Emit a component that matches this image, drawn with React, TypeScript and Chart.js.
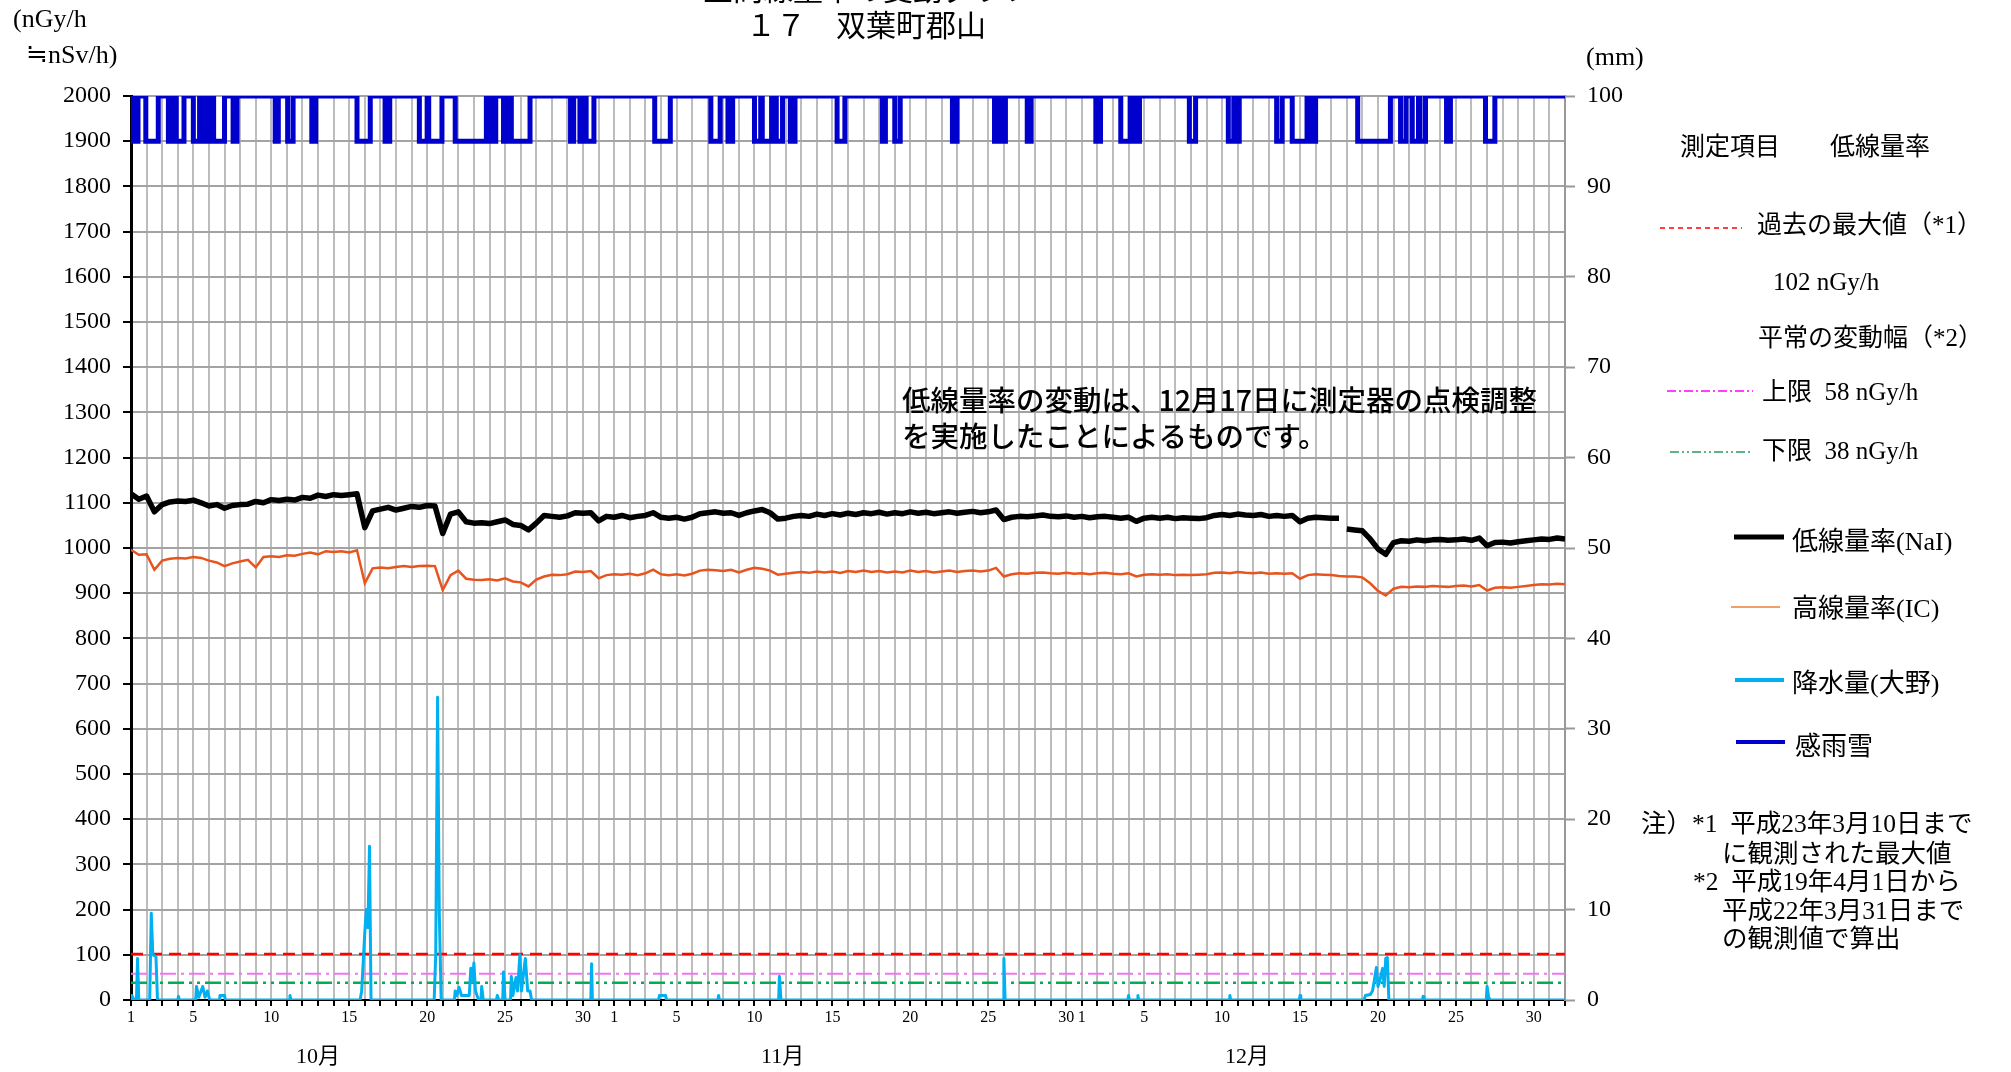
import React, { useEffect, useRef } from 'react';
import { Chart, registerables } from 'chart.js';

Chart.register(...registerables);

// ---------- data ----------
// day index: Oct d -> d-1, Nov d -> 30+d, Dec d -> 60+d ; axis 0..92
const X_MIN = 0;
const X_MAX = 92;
const OCT_LABEL_DAYS = [1, 5, 10, 15, 20, 25, 30];
const NOV_LABEL_DAYS = [1, 5, 10, 15, 20, 25, 30];
const DEC_LABEL_DAYS = [1, 5, 10, 15, 20, 25, 30];
const MONTH_NAMES = ['10月', '11月', '12月'];
const MONTH_LABEL_POS = [12, 41.8, 71.6];

// low dose rate NaI (nGy/h), every half day from Oct 1 00:00
const NAI = [
  1120, 1108, 1115, 1080, 1096, 1102, 1104, 1103, 1106, 1100,
  1093, 1096, 1088, 1094, 1096, 1097, 1103, 1100, 1107, 1105,
  1108, 1106, 1112, 1110, 1117, 1114, 1118, 1116, 1118, 1120,
  1045, 1082, 1086, 1090, 1084, 1088, 1092, 1090, 1094, 1093,
  1032, 1075, 1080, 1058, 1055, 1056, 1054, 1058, 1062, 1052,
  1050, 1040, 1055, 1072, 1070, 1068, 1071, 1078, 1077, 1078,
  1060, 1070, 1068, 1072, 1067, 1070, 1072, 1078, 1068, 1066,
  1068, 1064, 1068, 1076, 1078, 1080, 1077, 1078, 1072, 1078,
  1082, 1085, 1078, 1064, 1066, 1070, 1072, 1070, 1075, 1072,
  1076, 1073, 1077, 1074, 1078, 1076, 1079, 1075, 1078, 1076,
  1080, 1077, 1079, 1076, 1078, 1080, 1077, 1079, 1081, 1078,
  1080, 1084, 1063, 1068, 1070, 1069, 1071, 1073, 1070, 1069,
  1071, 1068, 1070, 1067, 1069, 1070, 1068, 1066, 1068, 1059,
  1066, 1068, 1066, 1068, 1065, 1067, 1066, 1065, 1067, 1072,
  1074, 1072, 1075, 1073, 1072, 1074, 1070, 1072, 1070, 1072,
  1058, 1066, 1068, 1067, 1066, 1066, 1042, 1040, 1038, 1020,
  998, 986, 1012, 1016, 1015, 1018, 1016, 1018, 1019, 1017,
  1018, 1020, 1017, 1022, 1005, 1012, 1013, 1011, 1014, 1016,
  1018, 1020, 1019, 1022, 1020,
];
// the NaI record is interrupted here (instrument inspection, Dec 17)
const NAI_GAP_X = 77.75;

// high dose rate IC (nGy/h), every half day
const IC = [
  996, 985, 986, 952, 972, 976, 978, 977, 980, 978,
  972, 968, 960, 966, 970, 974, 957, 980, 982, 980,
  984, 983, 987, 990, 986, 993, 991, 993, 990, 995,
  922, 955, 957, 955, 958, 960, 958, 960, 961, 960,
  907, 940, 950, 932, 930, 929, 931, 928, 933, 926,
  924, 915, 930, 937, 941, 940, 942, 948, 947, 949,
  933, 940, 942, 941, 943, 940, 944, 952, 942, 940,
  942, 939, 943, 950, 952, 951, 949, 952, 946, 952,
  956, 954, 950, 941, 943, 945, 947, 945, 948, 946,
  948, 945, 949, 947, 950, 947, 949, 946, 948, 946,
  950, 947, 949, 946, 948, 950, 947, 949, 950, 948,
  950, 956, 937, 942, 944, 943, 945, 946, 944, 943,
  945, 943, 944, 942, 944, 945, 943, 942, 944, 937,
  941, 942, 941, 942, 940, 941, 940, 941, 942, 945,
  946, 944, 947, 945, 944, 946, 943, 944, 943, 944,
  932, 940, 942, 941, 940, 938, 937, 937, 935, 922,
  905, 895, 910, 914, 913, 915, 914, 916, 915, 914,
  916, 917, 915, 918, 906, 912, 913, 912, 914, 916,
  918, 920, 919, 921, 920,
];
const HALF_DAY = 0.5;

// precipitation (mm) at Ono
const RAIN_X = [
  0, 0.05, 0.2, 0.35, 0.42, 0.5, 1.2, 1.3, 1.4, 1.6, 1.7,
  3.0, 3.05, 3.1, 4.15, 4.2, 4.35, 4.6, 4.75, 4.9, 5.05,
  5.65, 5.7, 6.0, 6.05, 10.15, 10.2, 10.25,
  14.7, 14.8, 15.0, 15.1, 15.2, 15.3, 15.4,
  19.45, 19.55, 19.67, 19.78, 19.9,
  20.75, 20.8, 20.9, 21.05, 21.2, 21.5, 21.7, 21.8, 21.9, 22.0, 22.1, 22.3,
  22.45, 22.5, 22.6, 23.45, 23.5, 23.6, 23.85, 23.9, 24.0,
  24.35, 24.4, 24.5, 24.7, 24.8, 24.95, 25.05, 25.3, 25.45, 25.6, 25.7,
  29.5, 29.55, 29.6, 33.85, 33.9, 34.3, 34.35, 37.65, 37.7, 37.75,
  41.55, 41.6, 41.7, 55.95, 56.0, 56.08,
  63.95, 64.0, 64.05, 64.55, 64.6, 64.65, 70.45, 70.5, 70.55, 74.95, 75.0, 75.05,
  79.1, 79.2, 79.5, 79.65, 79.75, 79.9, 80.0, 80.1, 80.3, 80.4, 80.5, 80.6, 80.7,
  82.85, 82.9, 82.95, 86.95, 87.0, 87.1, 87.2, 92,
];
const RAIN_MM = [
  0, 0.5, 0, 0, 4.6, 0, 0, 9.6, 5, 4.8, 0,
  0, 0.4, 0, 0, 1.5, 0.3, 1.5, 0.3, 1.0, 0,
  0, 0.5, 0.5, 0, 0, 0.5, 0,
  0, 1, 7.5, 10, 8, 17, 0,
  0, 5, 33.5, 9.5, 0,
  0, 1, 0.5, 1.4, 0.5, 0.5, 0.5, 3.5, 2, 4.1, 1, 0,
  0, 1.5, 0, 0, 0.5, 0, 0, 3.1, 0,
  0, 2.6, 0.5, 2.5, 1, 5, 1, 4.6, 1, 1, 0,
  0, 4, 0, 0, 0.5, 0.5, 0, 0, 0.5, 0,
  0, 2.6, 0, 0, 4.6, 0,
  0, 0.5, 0, 0, 0.5, 0, 0, 0.5, 0, 0, 0.5, 0,
  0, 0.5, 0.6, 1, 2, 3.6, 1.5, 2, 3.5, 1.5, 4.6, 4.7, 0,
  0, 0.4, 0, 0, 1.5, 0.3, 0, 0,
];

// rain/snow sensor: intervals (day index) where it detected precipitation
const SENSE_OFF = 2000;
const SENSE_ON = 1900;
const SENSE_INTERVALS: [number, number][] = [
  [0.05, 0.15], [0.25, 0.45], [0.95, 1.75], [2.4, 2.7], [2.9, 3.4],
  [4.0, 4.4], [4.5, 4.6], [4.7, 4.8], [4.9, 5.0], [5.1, 5.2], [5.3, 6.0],
  [6.55, 6.8], [9.25, 9.45], [10.05, 10.4], [11.6, 11.85], [14.5, 15.35],
  [16.3, 16.6], [18.5, 19.0], [19.1, 19.95], [20.8, 22.8], [22.9, 23.0],
  [23.1, 23.4], [23.9, 24.0], [24.1, 24.2], [24.4, 25.6], [28.2, 28.4],
  [28.8, 29.1], [29.2, 29.7], [33.6, 34.6], [37.2, 37.8], [38.3, 38.6],
  [40.0, 40.4], [40.5, 41.1], [41.4, 41.8], [42.3, 42.6], [45.3, 45.8],
  [48.2, 48.4], [49.0, 49.35], [52.7, 53.0], [55.4, 55.7], [55.85, 56.1],
  [57.5, 57.75], [61.9, 62.2], [63.5, 64.1], [64.4, 64.7], [67.9, 68.3],
  [70.4, 70.75], [70.85, 71.1], [73.5, 73.85], [74.5, 75.45], [75.7, 76.0],
  [78.7, 80.8], [81.45, 81.8], [82.2, 82.6], [82.7, 83.05], [84.4, 84.65],
  [86.9, 87.5],
];

// reference levels (nGy/h)
const PAST_MAX = 102;
const NORMAL_UPPER = 58;
const NORMAL_LOWER = 38;

// ---------- styling ----------
const SERIF = '"Liberation Serif", "Noto Sans CJK JP", serif';
const GOTHIC = '"Noto Sans CJK JP", sans-serif';
const C_NAI = '#000000';
const C_IC = '#e8541e';
const C_RAIN = '#00b0f0';
const C_SENSE = '#0000cc';
const C_MAX = '#ff0000';
const C_UP = '#ee77ee';
const C_LOW = '#00b050';

const labelMap = new Map<number, string>();
OCT_LABEL_DAYS.forEach((d) => labelMap.set(d - 1, String(d)));
NOV_LABEL_DAYS.forEach((d) => labelMap.set(30 + d, String(d)));
DEC_LABEL_DAYS.forEach((d) => labelMap.set(60 + d, String(d)));

const textPlugin = {
  id: 'texts',
  beforeDraw(chart: any) {
    const ctx = chart.ctx;
    ctx.save();
    ctx.fillStyle = '#ffffff';
    ctx.fillRect(0, 0, chart.width, chart.height);
    ctx.restore();
  },
  afterDraw(chart: any) {
    const ctx = chart.ctx as CanvasRenderingContext2D;
    const xs = chart.scales.x;
    ctx.save();
    ctx.fillStyle = '#000';
    ctx.textBaseline = 'middle';

    // title
    ctx.textAlign = 'center';
    ctx.font = `30px ${SERIF}`;
    ctx.fillText('空間線量率の変動グラフ', 868, -8);
    ctx.fillText('１７　双葉町郡山', 866, 28);

    // units
    ctx.textAlign = 'left';
    ctx.font = `26px ${SERIF}`;
    ctx.fillText('(nGy/h', 13, 20);
    ctx.fillText('≒nSv/h)', 26, 56);
    ctx.fillText('(mm)', 1586, 58);

    // month labels
    ctx.textAlign = 'center';
    ctx.font = `22px ${SERIF}`;
    MONTH_NAMES.forEach((m, i) => {
      ctx.fillText(m, xs.getPixelForValue(MONTH_LABEL_POS[i]), 1057);
    });

    // annotation
    ctx.textAlign = 'left';
    ctx.font = `500 28.5px ${GOTHIC}`;
    ctx.fillText('低線量率の変動は、12月17日に測定器の点検調整', 902, 400);
    ctx.fillText('を実施したことによるものです。', 902, 436);

    // legend
    const line = (x1: number, x2: number, y: number, color: string, w: number, dash: number[]) => {
      ctx.save();
      ctx.strokeStyle = color;
      ctx.lineWidth = w;
      ctx.setLineDash(dash);
      ctx.beginPath();
      ctx.moveTo(x1, y);
      ctx.lineTo(x2, y);
      ctx.stroke();
      ctx.restore();
    };
    ctx.font = `25px ${SERIF}`;
    ctx.fillText('測定項目　　低線量率', 1680, 148);
    line(1660, 1742, 228, C_MAX, 1.5, [5, 4]);
    ctx.fillText('過去の最大値（*1）', 1757, 226);
    ctx.fillText(`${PAST_MAX} nGy/h`, 1773, 283);
    ctx.fillText('平常の変動幅（*2）', 1758, 339);
    line(1667, 1753, 391, '#ff00ff', 1.5, [9, 3, 2, 3]);
    ctx.fillText(`上限  ${NORMAL_UPPER} nGy/h`, 1762, 393);
    line(1670, 1753, 452, '#2e9a5e', 1.5, [9, 3, 2, 3, 2, 3]);
    ctx.fillText(`下限  ${NORMAL_LOWER} nGy/h`, 1762, 452);

    ctx.font = `26px ${SERIF}`;
    line(1734, 1784, 537, C_NAI, 5, []);
    ctx.fillText('低線量率(NaI)', 1792, 543);
    line(1731, 1780, 607, '#e8803a', 1.5, []);
    ctx.fillText('高線量率(IC)', 1792, 610);
    line(1735, 1784, 680, C_RAIN, 4, []);
    ctx.fillText('降水量(大野)', 1792, 685);
    line(1736, 1785, 742, C_SENSE, 4, []);
    ctx.fillText('感雨雪', 1795, 748);

    ctx.font = `25.5px ${SERIF}`;
    ctx.fillText('注）*1  平成23年3月10日まで', 1641, 825);
    ctx.fillText('に観測された最大値', 1722, 855);
    ctx.fillText('*2  平成19年4月1日から', 1693, 883);
    ctx.fillText('平成22年3月31日まで', 1722, 912);
    ctx.fillText('の観測値で算出', 1722, 940);
    ctx.restore();
  },
};

export default function App() {
  const ref = useRef<HTMLCanvasElement | null>(null);

  useEffect(() => {
    if (!ref.current) return;
    const naiData: { x: number; y: number | null }[] = [];
    NAI.forEach((v, i) => {
      const x = i * HALF_DAY;
      if (x > NAI_GAP_X && (i - 1) * HALF_DAY < NAI_GAP_X) naiData.push({ x: NAI_GAP_X, y: null });
      naiData.push({ x, y: v });
    });
    const icData = IC.map((v, i) => ({ x: i * HALF_DAY, y: v }));
    const rainData = RAIN_X.map((x, i) => ({ x, y: RAIN_MM[i] }));
    const senseData: { x: number; y: number }[] = [{ x: X_MIN, y: SENSE_OFF }];
    SENSE_INTERVALS.forEach(([a, b]) => {
      senseData.push({ x: a, y: SENSE_OFF }, { x: a, y: SENSE_ON }, { x: b, y: SENSE_ON }, { x: b, y: SENSE_OFF });
    });
    senseData.push({ x: X_MAX, y: SENSE_OFF });
    const flat = (v: number) => [{ x: X_MIN, y: v }, { x: X_MAX, y: v }];

    const common = { pointRadius: 0, fill: false, tension: 0 };
    const chart = new Chart(ref.current, {
      type: 'line',
      data: {
        datasets: [
          { ...common, label: '降水量(大野)', data: rainData, yAxisID: 'y2', borderColor: C_RAIN, borderWidth: 3, borderJoinStyle: 'round' },
          { ...common, label: '低線量率(NaI)', data: naiData, yAxisID: 'y', borderColor: C_NAI, borderWidth: 5.5, spanGaps: false, borderJoinStyle: 'round' },
          { ...common, label: '高線量率(IC)', data: icData, yAxisID: 'y', borderColor: C_IC, borderWidth: 2.5 },
          { ...common, label: '過去の最大値', data: flat(PAST_MAX), yAxisID: 'y', borderColor: C_MAX, borderWidth: 2.5, borderDash: [12, 7] },
          { ...common, label: '上限', data: flat(NORMAL_UPPER), yAxisID: 'y', borderColor: C_UP, borderWidth: 2, borderDash: [16, 5, 3, 5] },
          { ...common, label: '下限', data: flat(NORMAL_LOWER), yAxisID: 'y', borderColor: C_LOW, borderWidth: 2.5, borderDash: [16, 5, 3, 5, 3, 5] },
          { ...common, label: '感雨雪', data: senseData, yAxisID: 'y', borderColor: C_SENSE, borderWidth: 5 },
        ],
      } as any,
      options: {
        responsive: false,
        animation: false,
        events: [],
        layout: { padding: { top: 96, left: 0, right: 0, bottom: 0 } },
        plugins: { legend: { display: false }, tooltip: { enabled: false }, title: { display: false } },
        scales: {
          x: {
            type: 'linear',
            min: X_MIN,
            max: X_MAX,
            afterFit: (s: any) => { s.height = 72; },
            ticks: {
              stepSize: 1,
              autoSkip: false,
              maxRotation: 0,
              minRotation: 0,
              padding: 2,
              color: '#000',
              font: { family: SERIF, size: 16 },
              callback: (v: any) => labelMap.get(Number(v)) ?? '',
            },
            grid: { color: '#bdbdbd', lineWidth: 2, tickColor: '#000', tickLength: 6, tickWidth: 2 },
            border: { color: '#000', width: 2 },
          },
          y: {
            position: 'left',
            min: 0,
            max: 2000,
            afterFit: (s: any) => { s.width = 131; },
            ticks: { stepSize: 100, padding: 12, color: '#000', font: { family: SERIF, size: 24 }, callback: (v: any) => String(v) },
            grid: { color: '#a3a3a3', lineWidth: 2, tickColor: '#000', tickLength: 8, tickWidth: 2 },
            border: { color: '#000', width: 3 },
          },
          y2: {
            position: 'right',
            min: 0,
            max: 100,
            afterFit: (s: any) => { s.width = 446; },
            ticks: { stepSize: 10, padding: 12, color: '#000', font: { family: SERIF, size: 24 }, callback: (v: any) => String(v) },
            grid: { drawOnChartArea: false, tickColor: '#999', tickLength: 10, tickWidth: 2 },
            border: { color: '#999', width: 2 },
          },
        },
      } as any,
      plugins: [textPlugin],
    });
    return () => chart.destroy();
  }, []);

  return (
    <div style={{ position: 'absolute', left: 0, top: 0, width: 2011, height: 1072, background: '#fff' }}>
      <canvas ref={ref} width={2011} height={1072} />
    </div>
  );
}
